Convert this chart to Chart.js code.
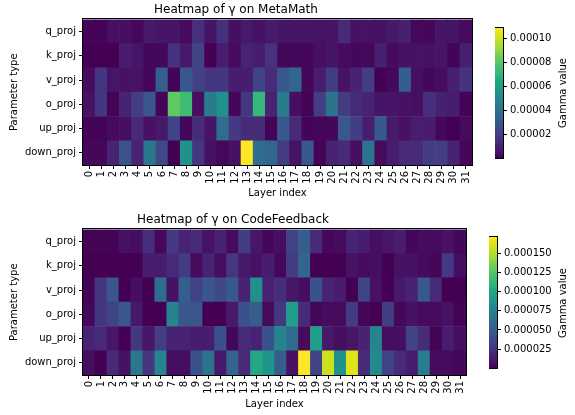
<!DOCTYPE html>
<html>
<head>
<meta charset="utf-8">
<script src="https://cdn.jsdelivr.net/npm/chart.js@4.4.1/dist/chart.umd.min.js"></script>
<style>
  body { margin: 0; width: 575px; height: 415px; background: #fff; position: relative; overflow: hidden; }
  canvas { position: absolute; }
  .cb-label {
    position: absolute;
    font: 10px "DejaVu Sans", sans-serif;
    color: #000;
    white-space: nowrap;
    transform: translate(-50%, -50%) rotate(-90deg);
  }
</style>
</head>
<body>
<canvas id="metaMain" width="555" height="199" style="left:0;top:0"></canvas>
<canvas id="metaBar" width="80" height="148" style="left:495px;top:19px"></canvas>
<canvas id="codeMain" width="549" height="200" style="left:0;top:210px"></canvas>
<canvas id="codeBar" width="86" height="149" style="left:489px;top:228px"></canvas>
<div class="cb-label" style="left:562px;top:93px">Gamma value</div>
<div class="cb-label" style="left:562px;top:303px">Gamma value</div>
<script>
// x categories and row names (top to bottom)
const layers = Array.from({ length: 32 }, (_, i) => String(i));
const paramTypes = ["q_proj", "k_proj", "v_proj", "o_proj", "up_proj", "down_proj"];

// gamma values, in units of 1e-5
const metaQ = [0.11,0.11,0.44,0.44,0.22,0.76,0.65,0.65,0.33,1.42,0.65,1.42,0.44,0.76,0.55,0.76,0.65,0.65,0.65,0.55,0.65,1.31,0.55,0.55,0.55,0.76,0.98,0.22,0.22,0.65,0.65,0.33];
const metaK = [0.03,0.03,0.03,0.87,0.65,0.22,0.22,1.53,0.76,2.18,0.03,0.87,0.33,1.09,0.87,1.53,0.22,0.22,0.22,0.44,0.65,0.33,0.22,0.22,0.98,0.33,0.55,0.55,0.55,0.65,0.11,0.98];
const metaV = [0.33,1.64,0.65,0.55,0.55,0.22,3.27,0.11,2.94,2.07,1.64,1.64,0.87,0.87,2.18,1.31,2.94,3.6,0.22,0.87,1.85,0.55,1.09,1.96,0.03,0.22,3.27,0.44,0.22,0.33,0.98,1.53];
const metaO = [0.55,1.64,0.11,1.09,1.96,2.94,0.11,8.18,7.41,0.44,4.58,5.45,0.22,1.64,7.09,1.09,4.58,0.44,0.11,1.96,4.14,1.85,1.31,1.09,0.65,0.65,0.55,0.44,1.42,0.98,0.87,0.11];
const metaUp = [0.11,0.11,0.33,0.44,1.31,0.55,0.76,2.18,0.22,1.31,0.65,3.82,1.74,1.31,1.31,0.11,3.05,1.31,0.11,0.22,0.22,2.94,1.96,0.87,3.05,0.76,0.55,0.87,0.87,0.22,0.03,0.33];
const metaDown = [0.22,0.22,1.09,2.73,1.09,4.36,2.4,0.03,5.45,1.64,0.55,0.22,0.55,10.9,3.82,3.6,1.85,0.55,3.05,0.11,1.09,1.31,0.44,4.14,0.33,0.87,1.31,1.31,1.96,1.96,1.09,0.22];

const codeQ = [0.17,0.17,0.17,0.86,0.68,2.22,0.34,2.74,1.71,2.05,0.86,1.71,0.51,3.08,1.03,0.34,0.68,3.42,5.13,2.05,0.34,0.51,1.71,1.37,0.68,1.03,1.37,0.34,0.51,0.51,0.86,0.34];
const codeK = [0.05,0.05,0.05,0.05,0.05,1.37,1.37,2.05,2.91,0.51,1.71,0.68,2.57,1.2,0.86,1.37,0.34,2.91,5.64,0.05,0.05,0.05,0.86,0.51,0.68,0.05,0.86,0.86,0.51,0.34,2.74,0.68];
const codeV = [0.17,2.57,4.62,0.05,0.68,0.05,5.99,0.86,5.13,3.42,4.62,3.76,4.79,1.71,8.55,1.71,2.22,1.03,0.68,4.28,1.71,1.37,0.05,3.42,0.86,0.05,1.2,1.71,4.79,2.05,0.05,0.05];
const codeO = [0.34,2.57,3.42,4.62,1.2,0.05,0.05,7.7,4.62,4.62,0.05,0.05,1.2,4.28,5.13,0.51,2.57,9.41,2.05,0.34,0.51,0.51,2.91,0.34,0.05,3.08,0.34,0.86,0.51,0.51,0.86,0.17];
const codeUp = [1.71,2.05,1.03,0.05,2.57,1.03,3.08,1.71,1.71,1.37,1.37,4.28,0.34,2.05,1.71,4.28,7.7,5.99,0.51,9.41,1.2,0.68,1.03,1.71,7.7,0.68,0.68,3.42,2.05,0.17,1.37,0.68];
const codeDown = [0.68,0.05,2.05,0.86,6.84,2.57,7.7,0.68,0.68,4.28,6.5,1.2,5.47,2.05,10.26,8.89,5.13,0.86,17.1,3.42,15.73,8.55,16.25,2.05,8.21,3.42,2.05,1.37,7.18,0.51,0.51,0.34];

// colorbar tick labels
const metaTicks = [0.00002, 0.00004, 0.00006, 0.00008, 0.00010];
const codeTicks = [0.000025, 0.00005, 0.000075, 0.0001, 0.000125, 0.00015];

const UNIT = 1e-5;

// viridis stops
const VIRIDIS = ["#440154","#471365","#482475","#453781","#414487","#3b528b","#355f8d","#2f6c8e",
  "#2a788e","#25848e","#21918c","#1f9e89","#22a884","#35b779","#44bf70","#5ec962",
  "#7ad151","#a5db36","#bddf26","#dfe318","#fde725"];

function hexRgb(h) {
  return [1, 3, 5].map(i => parseInt(h.slice(i, i + 2), 16));
}

function viridis(t) {
  t = Math.min(1, Math.max(0, t));
  const pos = t * (VIRIDIS.length - 1);
  const i = Math.min(Math.floor(pos), VIRIDIS.length - 2);
  const f = pos - i;
  const a = hexRgb(VIRIDIS[i]), b = hexRgb(VIRIDIS[i + 1]);
  const c = a.map((v, k) => Math.round(v + (b[k] - v) * f));
  return `rgb(${c[0]},${c[1]},${c[2]})`;
}

Chart.defaults.color = "#000";
Chart.defaults.font.family = "'DejaVu Sans', sans-serif";
Chart.defaults.font.size = 10;

// black frame round the plot area, like matplotlib spines
const framePlugin = {
  id: "frame",
  afterDraw(chart) {
    const { ctx, chartArea: a } = chart;
    ctx.save();
    ctx.strokeStyle = "#000";
    ctx.lineWidth = 1;
    ctx.strokeRect(Math.round(a.left) - 0.5, Math.round(a.top) - 0.5,
      Math.round(a.right - a.left) + 1, Math.round(a.bottom - a.top) + 1);
    ctx.restore();
  }
};

function heatmap(canvasId, title, rows, xHeight) {
  const gamma = rows.map(r => r.map(v => v * UNIT));
  const all = gamma.flat();
  const vmin = Math.min(...all);
  const vmax = Math.max(...all);

  // bottom row first so stacking puts down_proj at the bottom
  const datasets = gamma.slice().reverse().map((vals, i) => ({
    label: paramTypes[paramTypes.length - 1 - i],
    data: layers.map(() => 1),
    backgroundColor: ctx => viridis((vals[ctx.dataIndex] - vmin) / (vmax - vmin)),
    borderWidth: 0,
    barPercentage: 1,
    categoryPercentage: 1
  }));

  new Chart(document.getElementById(canvasId), {
    type: "bar",
    data: { labels: layers, datasets },
    options: {
      responsive: false,
      animation: false,
      layout: { padding: { left: 0, right: 83, top: 0, bottom: 0 } },
      plugins: {
        legend: { display: false },
        tooltip: { enabled: false },
        title: {
          display: true,
          text: title,
          font: { size: 12, weight: "normal" },
          padding: { top: 3, bottom: 2 }
        }
      },
      scales: {
        x: {
          stacked: true,
          border: { display: false },
          grid: { offset: false, drawOnChartArea: false, tickLength: 4, color: "#000" },
          ticks: { autoSkip: false, minRotation: 90, maxRotation: 90, padding: 2 },
          title: { display: true, text: "Layer index", padding: 0 },
          afterFit: s => { s.height = xHeight; }
        },
        y: {
          stacked: true,
          min: 0,
          max: 6,
          border: { display: false },
          grid: { drawOnChartArea: false, tickLength: 4, color: "#000" },
          afterBuildTicks: s => { s.ticks = [0.5, 1.5, 2.5, 3.5, 4.5, 5.5].map(v => ({ value: v })); },
          ticks: {
            padding: 3,
            callback: v => paramTypes[5 - Math.floor(v)]
          },
          title: { display: true, text: "Parameter type", padding: { top: 8, bottom: 0 } },
          afterFit: s => { s.width = 83; }
        }
      }
    },
    plugins: [framePlugin]
  });
  return [vmin, vmax];
}

function colorbar(canvasId, range, ticks, digits, axisWidth) {
  const [vmin, vmax] = range;
  new Chart(document.getElementById(canvasId), {
    type: "bar",
    data: {
      labels: [""],
      datasets: [{
        data: [[vmin, vmax]],
        borderWidth: 0,
        barPercentage: 1,
        categoryPercentage: 1,
        backgroundColor: ctx => {
          const { chartArea, ctx: c } = ctx.chart;
          if (!chartArea) return null;
          const g = c.createLinearGradient(0, chartArea.bottom, 0, chartArea.top);
          VIRIDIS.forEach((col, i) => g.addColorStop(i / (VIRIDIS.length - 1), col));
          return g;
        }
      }]
    },
    options: {
      responsive: false,
      animation: false,
      layout: { padding: { left: 0, right: 0, top: 1, bottom: 1 } },
      plugins: { legend: { display: false }, tooltip: { enabled: false } },
      scales: {
        x: { display: false },
        y: {
          position: "right",
          min: vmin,
          max: vmax,
          border: { display: false },
          grid: { drawOnChartArea: false, tickLength: 4, color: "#000" },
          afterBuildTicks: s => { s.ticks = ticks.map(v => ({ value: v })); },
          ticks: { padding: 3, callback: v => v.toFixed(digits) },
          afterFit: s => { s.width = axisWidth; }
        }
      }
    },
    plugins: [framePlugin]
  });
}

const metaRange = heatmap("metaMain", "Heatmap of \u03b3 on MetaMath",
  [metaQ, metaK, metaV, metaO, metaUp, metaDown], 34);
const codeRange = heatmap("codeMain", "Heatmap of \u03b3 on CodeFeedback",
  [codeQ, codeK, codeV, codeO, codeUp, codeDown], 35);

colorbar("metaBar", metaRange, metaTicks, 5, 72);
colorbar("codeBar", codeRange, codeTicks, 6, 78);
</script>
</body>
</html>
